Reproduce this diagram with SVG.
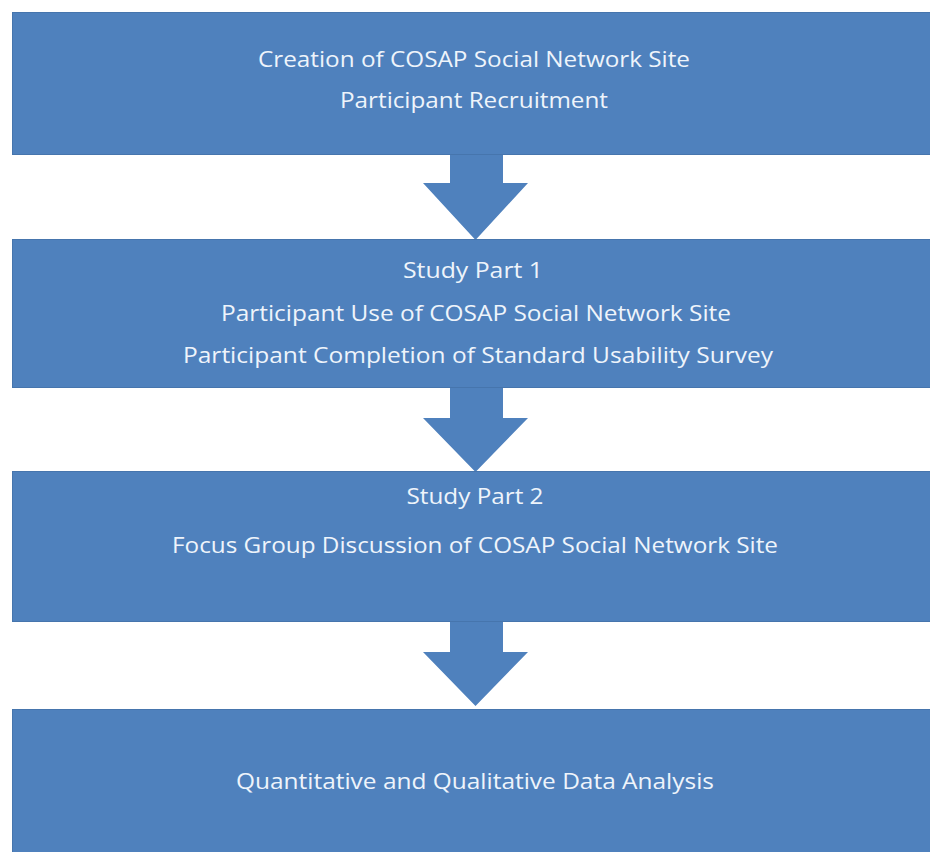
<svg xmlns="http://www.w3.org/2000/svg" width="930" height="852" viewBox="0 0 930 852">
<style>
.box{fill:#4f81bd;stroke:#4675ad;stroke-width:1}
.arr{fill:#4f81bd}
.t{font-family:"Open Sans","Liberation Sans",sans-serif;font-size:21px;fill:#eef4fb;text-anchor:middle}
</style>
<rect width="930" height="852" fill="#ffffff"/>
<g id="connectors">
<polygon class="arr" points="450,154 503,154 503,183 528,183 475.5,240 423,183 450,183"/>
<polygon class="arr" points="450,387 503,387 503,418 528,418 475.5,472 423,418 450,418"/>
<polygon class="arr" points="450,621 503,621 503,652 528,652 475.5,706 423,652 450,652"/>
</g>
<g id="node1">
<rect class="box" x="12.5" y="12.5" width="920" height="142"/>
<text class="t" x="474" y="67" textLength="432" lengthAdjust="spacingAndGlyphs">Creation of COSAP Social Network Site</text>
<text class="t" x="474" y="108" textLength="268" lengthAdjust="spacingAndGlyphs">Participant Recruitment</text>
</g>
<g id="node2">
<rect class="box" x="12.5" y="239.5" width="920" height="148"/>
<text class="t" x="473" y="278" textLength="140" lengthAdjust="spacingAndGlyphs">Study Part 1</text>
<text class="t" x="476" y="321" textLength="510" lengthAdjust="spacingAndGlyphs">Participant Use of COSAP Social Network Site</text>
<text class="t" x="478" y="363" textLength="590" lengthAdjust="spacingAndGlyphs">Participant Completion of Standard Usability Survey</text>
</g>
<g id="node3">
<rect class="box" x="12.5" y="471.5" width="920" height="150"/>
<text class="t" x="475" y="504" textLength="137" lengthAdjust="spacingAndGlyphs">Study Part 2</text>
<text class="t" x="475" y="553" textLength="606" lengthAdjust="spacingAndGlyphs">Focus Group Discussion of COSAP Social Network Site</text>
</g>
<g id="node4">
<rect class="box" x="12.5" y="709.5" width="920" height="145"/>
<text class="t" x="475" y="789" textLength="478" lengthAdjust="spacingAndGlyphs">Quantitative and Qualitative Data Analysis</text>
</g>
</svg>
